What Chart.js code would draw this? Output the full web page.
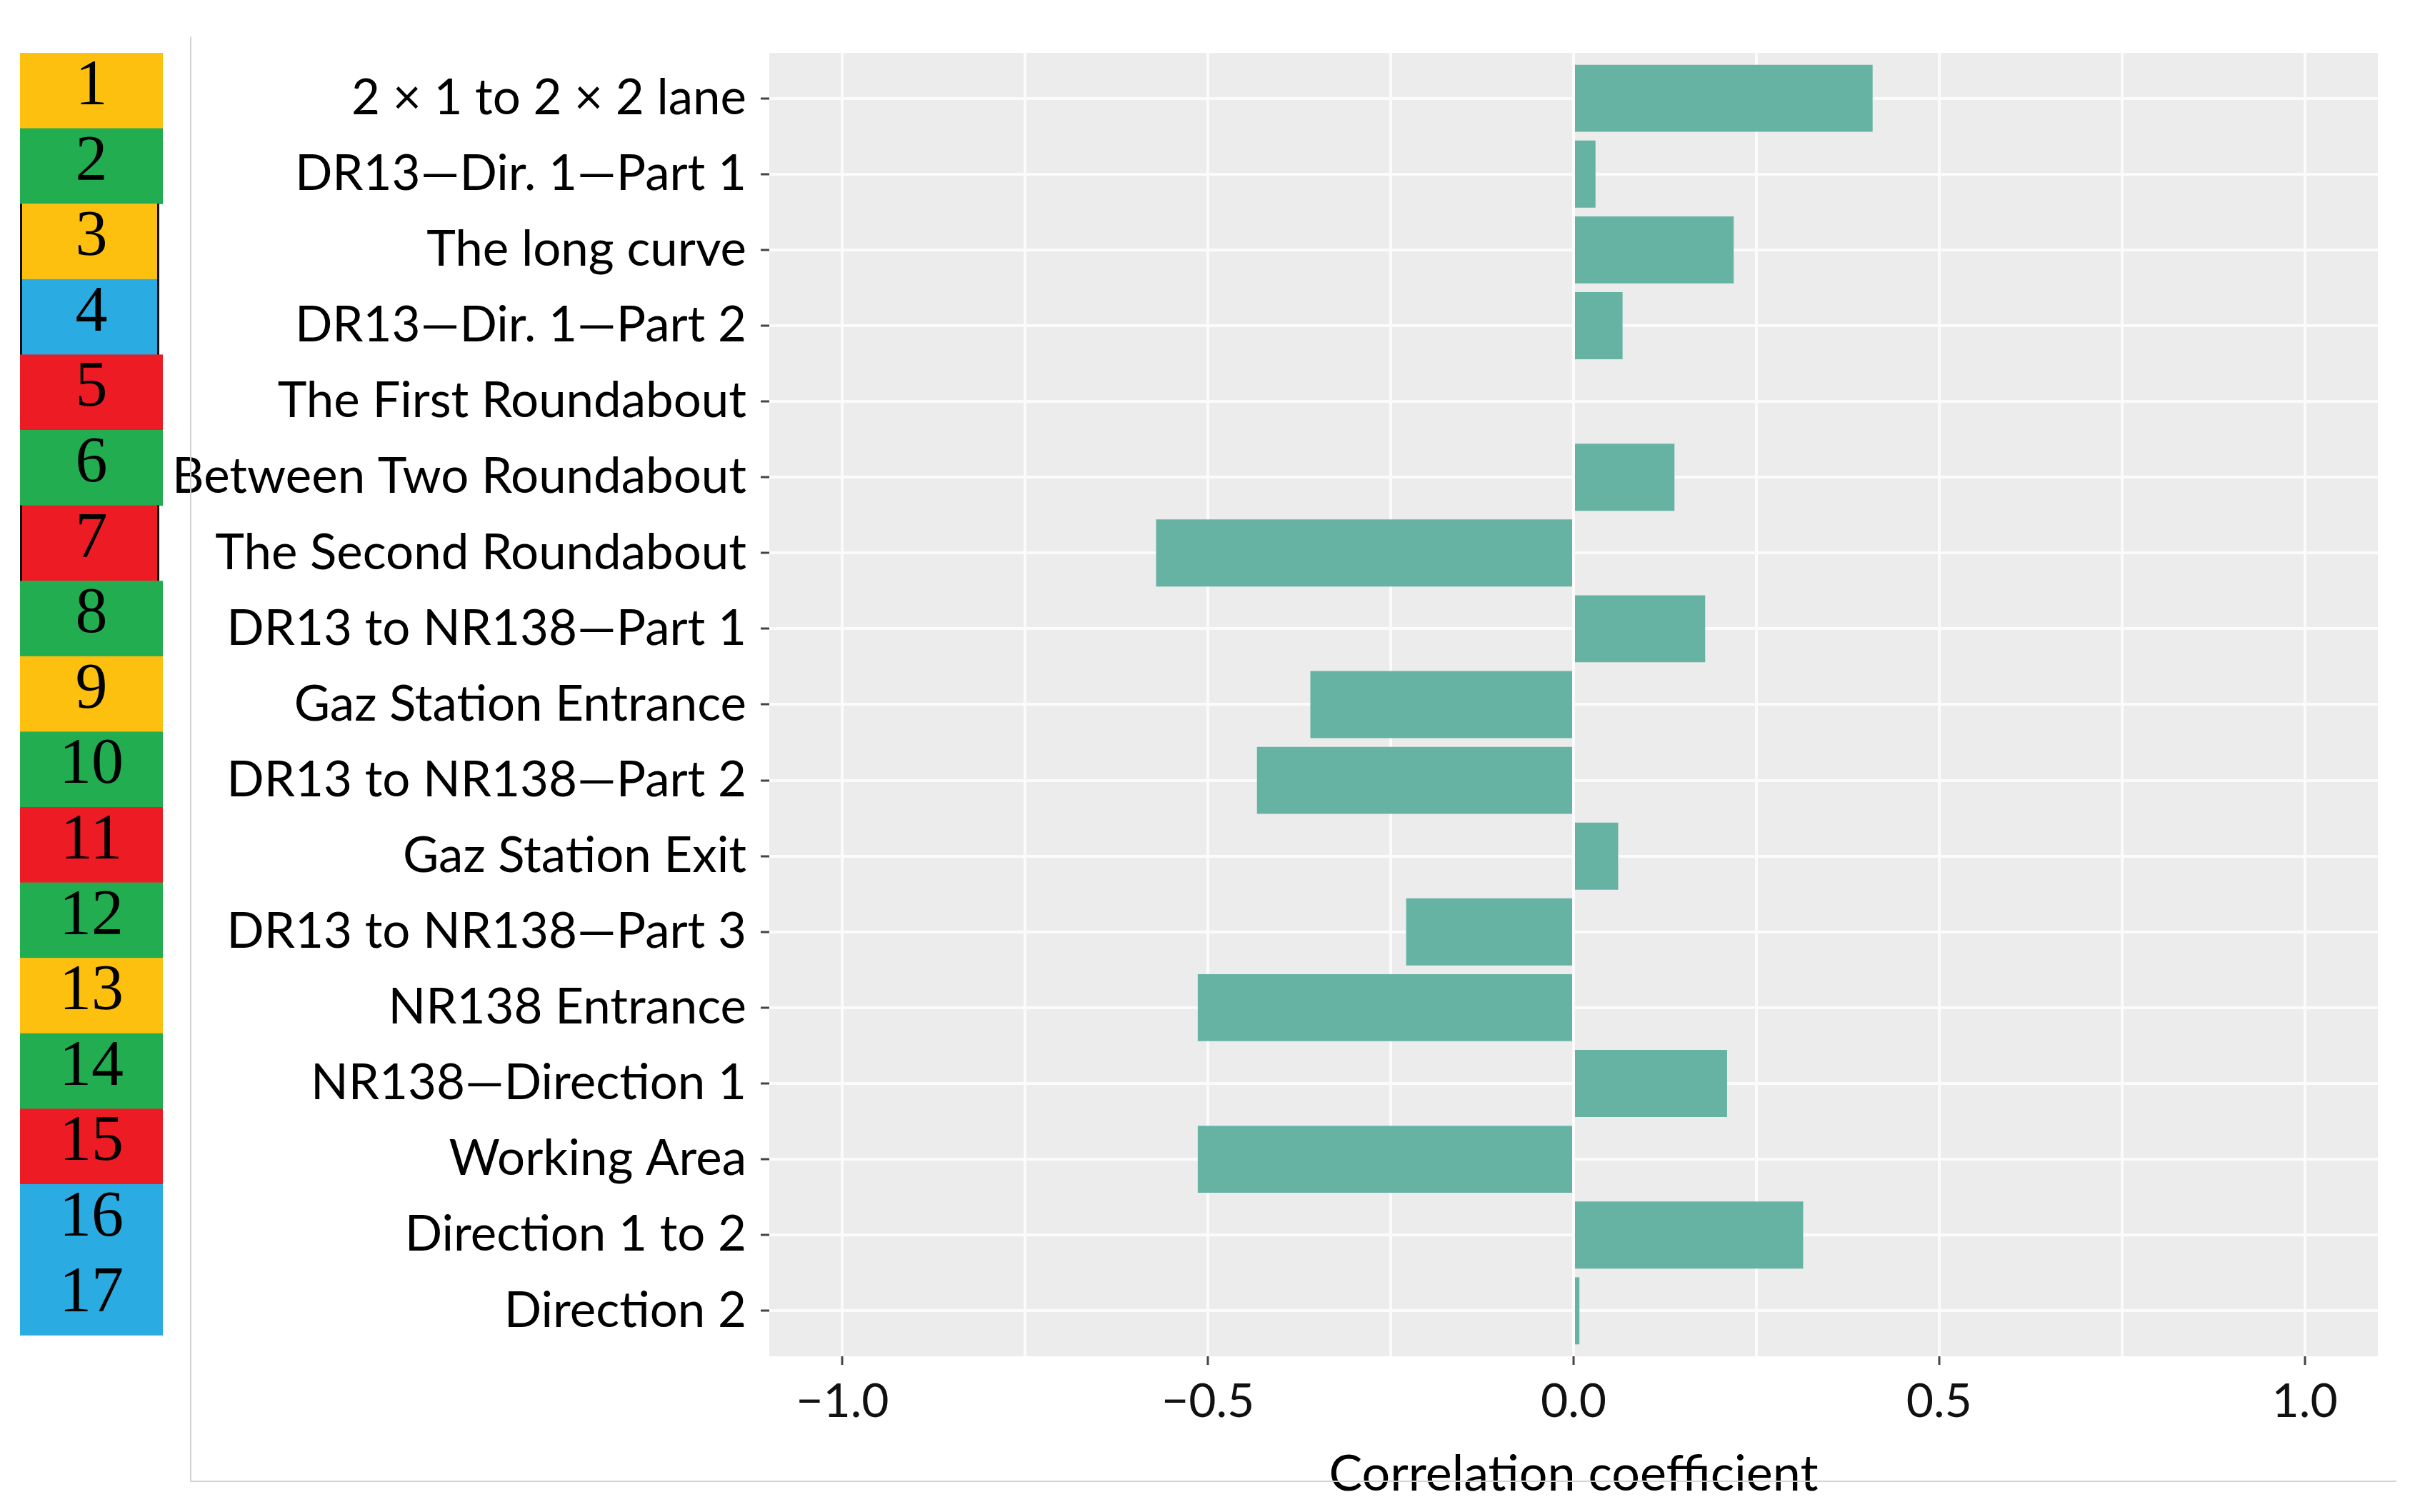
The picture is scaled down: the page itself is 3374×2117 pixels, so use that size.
<!DOCTYPE html>
<html>
<head>
<meta charset="utf-8">
<script src="https://cdn.jsdelivr.net/npm/chart.js@4.4.1/dist/chart.umd.min.js"></script>
<style>
  html, body { margin: 0; padding: 0; background: #fff; }
  #chart { display: block; }
</style>
</head>
<body>
<canvas id="chart" width="3374" height="2117" style="width:3374px;height:2117px"></canvas>
<script>
// Road sections, top to bottom
const sections = [
  '2 × 1 to 2 × 2 lane',
  'DR13—Dir. 1—Part 1',
  'The long curve',
  'DR13—Dir. 1—Part 2',
  'The First Roundabout',
  'Between Two Roundabout',
  'The Second Roundabout',
  'DR13 to NR138—Part 1',
  'Gaz Station Entrance',
  'DR13 to NR138—Part 2',
  'Gaz Station Exit',
  'DR13 to NR138—Part 3',
  'NR138 Entrance',
  'NR138—Direction 1',
  'Working Area',
  'Direction 1 to 2',
  'Direction 2',
];

// correlation coefficient of each section
const correlation = [0.409, 0.030, 0.219, 0.067, 0, 0.138, -0.571, 0.180, -0.360,
  -0.433, 0.061, -0.229, -0.514, 0.210, -0.514, 0.314, 0.008];

// coloured number tags on the left
const sectionColors = ['yellow', 'green', 'yellow', 'blue', 'red', 'green', 'red', 'green',
  'yellow', 'green', 'red', 'green', 'yellow', 'green', 'red', 'blue', 'blue'];
const outlinedTags = [3, 4, 7];

const xTickValues = [-1, -0.5, 0, 0.5, 1];
const xTickLabels = ['−1.0', '−0.5', '0.0', '0.5', '1.0'];
const xMinorValues = [-0.75, -0.25, 0.25, 0.75];

const tagPalette = { yellow: '#fec00f', green: '#22ad50', blue: '#2aace2', red: '#ed1c24' };
const FONT = 'Lato';

const panelBackground = {
  id: 'panelBackground',
  beforeDraw(chart) {
    const { ctx, chartArea: a } = chart;
    ctx.save();
    ctx.fillStyle = '#ebeceb';
    ctx.fillRect(a.left, a.top, a.right - a.left, a.bottom - a.top);
    ctx.restore();
  },
};

const sectionTags = {
  id: 'sectionTags',
  afterDraw(chart) {
    const ctx = chart.ctx;
    const top = 74, h = 105.6, left = 28, w = 200;
    ctx.save();
    // thin frame around the figure
    ctx.strokeStyle = '#d4d4d4';
    ctx.lineWidth = 2;
    ctx.beginPath();
    ctx.moveTo(267, 51);
    ctx.lineTo(267, 2074);
    ctx.lineTo(3355, 2074);
    ctx.stroke();

    sectionColors.forEach((c, i) => {
      const y = top + i * h;
      const n = i + 1;
      const ww = outlinedTags.includes(n) ? 195 : w;
      ctx.fillStyle = tagPalette[c];
      ctx.fillRect(left, y, ww, h + 0.6);
      if (outlinedTags.includes(n)) {
        ctx.fillStyle = '#111';
        ctx.fillRect(left, y, 3, h + 0.6);
        ctx.fillRect(left + ww - 3, y, 3, h + 0.6);
      }
      ctx.fillStyle = '#000';
      ctx.font = '90px "Liberation Serif"';
      ctx.textAlign = 'center';
      ctx.textBaseline = 'alphabetic';
      ctx.fillText(String(n), left + w / 2, y + 72);
    });
    ctx.restore();
  },
};

function draw() {
  new Chart(document.getElementById('chart'), {
    type: 'bar',
    data: {
      datasets: [{
        data: correlation.map((v, i) => ({ x: v, y: i + 1 })),
        backgroundColor: '#67b3a3',
        borderWidth: 0,
        barPercentage: 0.885,
        categoryPercentage: 1,
      }],
    },
    options: {
      indexAxis: 'y',
      responsive: false,
      devicePixelRatio: 1,
      animation: false,
      layout: { padding: { top: 74, right: 45, bottom: 11, left: 0 } },
      plugins: { legend: { display: false }, tooltip: { enabled: false } },
      scales: {
        x: {
          type: 'linear',
          min: -1.1,
          max: 1.1,
          afterBuildTicks: (s) => {
            s.ticks = [...xMinorValues, ...xTickValues].sort((a, b) => a - b).map(v => ({ value: v }));
          },
          afterFit: (s) => { s.height = 207; },
          grid: {
            color: '#fbfbfb',
            lineWidth: 4,
            tickLength: 12,
            tickWidth: 3,
            tickColor: (c) => (c.tick && xTickValues.includes(c.tick.value)) ? '#444' : 'rgba(0,0,0,0)',
          },
          border: { display: false },
          ticks: {
            color: '#111',
            font: { family: FONT, size: 66 },
            padding: 12,
            maxRotation: 0,
            autoSkip: false,
            callback: (v) => {
              const k = xTickValues.indexOf(v);
              return k < 0 ? '' : xTickLabels[k];
            },
          },
          title: {
            display: true,
            text: 'Correlation coefficient',
            color: '#000',
            font: { family: FONT, size: 70 },
            padding: 0,
          },
        },
        y: {
          type: 'linear',
          reverse: true,
          offset: false,
          min: 0.4,
          max: 17.6,
          afterBuildTicks: (s) => { s.ticks = sections.map((_, i) => ({ value: i + 1 })); },
          afterFit: (s) => { s.width = 1077; },
          grid: {
            offset: false,
            color: '#fbfbfb',
            lineWidth: 4,
            tickLength: 12,
            tickWidth: 3,
            tickColor: '#444',
          },
          border: { display: false },
          ticks: {
            color: '#000',
            font: { family: FONT, size: 69 },
            padding: 20,
            autoSkip: false,
            callback: (v) => sections[v - 1],
          },
        },
      },
    },
    plugins: [panelBackground, sectionTags],
  });
}

document.fonts.load('64px Lato').then(draw, draw);
</script>
</body>
</html>
